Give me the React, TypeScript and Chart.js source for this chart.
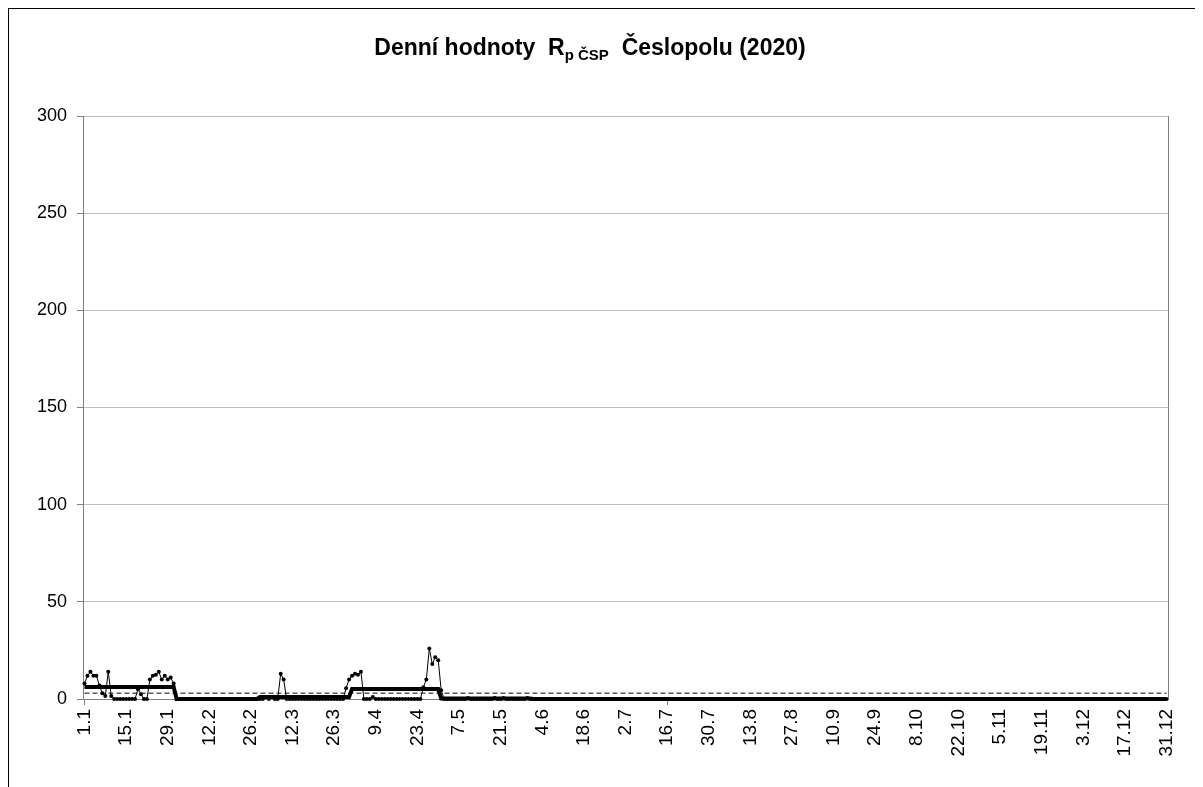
import React, { useEffect, useRef } from "react";
import { Chart, registerables } from "chart.js";

Chart.register(...registerables);

// Calendar (labels follow a 365-day calendar as in the reference)
const monthDays = [31, 28, 31, 30, 31, 30, 31, 31, 30, 31, 30, 31];
const dayLabels: string[] = [];
monthDays.forEach((n, m) => {
  for (let d = 1; d <= n; d++) dayLabels.push(`${d}.${m + 1}`);
});

// Daily values R_p ČSP
const jan = [8, 12, 14, 12, 12, 7, 3, 1.5, 14, 1.5, 0, 0, 0, 0, 0, 0, 0, 0, 5, 2.5, 0, 0, 10, 12, 12.5, 14, 10, 12, 10, 11, 8];
const feb = [0, 0, 0, 0, 0, 0, 0, 0, 0, 0, 0, 0, 0, 0, 0, 0, 0, 0, 0, 0, 0, 0, 0, 0, 0, 0, 0, 0];
const mar = [0, 0, 1, 0, 1, 0, 0, 13, 10, 0, 0, 0, 0, 0, 0, 0, 0, 0, 0, 0, 0, 0, 0, 0, 0, 0, 0, 0, 0, 5.5, 10];
const apr = [12, 13, 12.5, 14, 0, 0, 0, 1, 0, 0, 0, 0, 0, 0, 0, 0, 0, 0, 0, 0, 0, 0, 0, 0, 6, 10, 26, 18, 21.5, 20];
const may = [4.5, 0, 0, 0, 0, 0, 0, 0, 0, 0.5, 0, 0, 0, 0, 0, 0, 0, 0, 0.5, 0, 0, 0.5, 0, 0, 0, 0, 0, 0, 0, 0.5, 0];
const jun = [0, 0, 0, 0, 0, 0, 0, 0, 0, 0, 0, 0, 0, 0, 0, 0, 0, 0, 0, 0, 0, 0, 0, 0, 0, 0, 0, 0, 0, 0];
const jul = [0, 0, 0, 0, 0, 0, 0, 0, 0, 0, 0, 0, 0, 0, 0, 0, 0, 0, 0, 0, 0, 0, 0, 0, 0, 0, 0, 0, 0, 0, 0];
const aug = [0, 0, 0, 0, 0, 0, 0, 0, 0, 0, 0, 0, 0, 0, 0, 0, 0, 0, 0, 0, 0, 0, 0, 0, 0, 0, 0, 0, 0, 0, 0];
const sep = [0, 0, 0, 0, 0, 0, 0, 0, 0, 0, 0, 0, 0, 0, 0, 0, 0, 0, 0, 0, 0, 0, 0, 0, 0, 0, 0, 0, 0, 0];
const oct = [0, 0, 0, 0, 0, 0, 0, 0, 0, 0, 0, 0, 0, 0, 0, 0, 0, 0, 0, 0, 0, 0, 0, 0, 0, 0, 0, 0, 0, 0, 0];
const nov = [0, 0, 0, 0, 0, 0, 0, 0, 0, 0, 0, 0, 0, 0, 0, 0, 0, 0, 0, 0, 0, 0, 0, 0, 0, 0, 0, 0, 0, 0];
const dec = [0, 0, 0, 0, 0, 0, 0, 0, 0, 0, 0, 0, 0, 0, 0, 0, 0, 0, 0, 0, 0, 0, 0, 0, 0, 0, 0, 0, 0, 0, 0];
const dailyValues = [...jan, ...feb, ...mar, ...apr, ...may, ...jun, ...jul, ...aug, ...sep, ...oct, ...nov, ...dec];

// Monthly mean values (thick line)
const monthlyMeans = [6.2, 0, 1.0, 5.1, 0.2, 0, 0, 0, 0, 0, 0, 0];
const monthlyLine: number[] = [];
monthDays.forEach((n, m) => {
  for (let d = 0; d < n; d++) monthlyLine.push(monthlyMeans[m]);
});

// Reference level (dashed line)
const referenceLevel = 3;
const referenceLine = dailyValues.map(() => referenceLevel);

const yTicks = [0, 50, 100, 150, 200, 250, 300];
const labelStep = 14;

const FONT = "'Liberation Sans', Arial, sans-serif";

const titlePlugin = {
  id: "customTitle",
  afterDraw(chart: any) {
    const ctx = chart.ctx;
    ctx.save();
    ctx.fillStyle = "#000";
    ctx.textBaseline = "alphabetic";
    const big = `bold 23px ${FONT}`;
    const small = `bold 15px ${FONT}`;
    const parts = [
      { t: "Denní hodnoty  R", f: big, dy: 0 },
      { t: "p ČSP", f: small, dy: 5 },
      { t: "  Česlopolu (2020)", f: big, dy: 0 },
    ];
    let total = 0;
    parts.forEach((p) => {
      ctx.font = p.f;
      total += ctx.measureText(p.t).width;
    });
    let x = 581 - total / 2;
    const baseY = 46;
    parts.forEach((p) => {
      ctx.font = p.f;
      ctx.fillText(p.t, x, baseY + p.dy);
      x += ctx.measureText(p.t).width;
    });
    // right frame of plot area
    const a = chart.chartArea;
    ctx.strokeStyle = "#808080";
    ctx.lineWidth = 1;
    ctx.beginPath();
    ctx.moveTo(Math.round(a.right) + 0.5, a.top);
    ctx.lineTo(Math.round(a.right) + 0.5, a.bottom);
    ctx.stroke();
    ctx.restore();
  },
};

export default function App() {
  const ref = useRef<HTMLCanvasElement>(null);
  useEffect(() => {
    if (!ref.current) return;
    const chart = new Chart(ref.current, {
      type: "line",
      data: {
        labels: dayLabels,
        datasets: [
          {
            label: "Měsíční průměr",
            data: monthlyLine,
            borderColor: "#000",
            borderWidth: 4,
            pointRadius: 0,
            tension: 0,
            clip: 6,
          },
          {
            label: "Denní hodnoty",
            data: dailyValues,
            borderColor: "#000",
            borderWidth: 1,
            pointRadius: 2,
            pointBackgroundColor: "#000",
            pointBorderWidth: 0,
            tension: 0,
            clip: 6,
          },
          {
            label: "Úroveň",
            data: referenceLine,
            borderColor: "#000",
            borderWidth: 1,
            borderDash: [5, 3],
            pointRadius: 0,
            tension: 0,
          },
        ],
      },
      options: {
        animation: false,
        responsive: false,
        maintainAspectRatio: false,
        layout: { padding: { top: 107, right: 34, left: 0, bottom: 0 } },
        plugins: {
          legend: { display: false },
          tooltip: { enabled: false },
          title: { display: false },
        },
        scales: {
          x: {
            type: "category",
            offset: true,
            afterFit(scale: any) {
              scale.height = 88;
            },
            grid: {
              display: true,
              drawOnChartArea: false,
              drawTicks: true,
              tickLength: 6,
              offset: false,
              color: "#808080",
              tickColor: (c: any) => (c.index % labelStep === 0 ? "#808080" : "rgba(0,0,0,0)"),
            },
            border: { color: "#808080", width: 1 },
            ticks: {
              autoSkip: false,
              minRotation: 90,
              maxRotation: 90,
              padding: 4,
              color: "#000",
              font: { family: FONT, size: 19 },
              callback: (_v: any, i: number) => (i % labelStep === 0 ? dayLabels[i] : null),
            },
          },
          y: {
            min: 0,
            max: 300,
            afterFit(scale: any) {
              scale.width = 74;
            },
            afterBuildTicks(scale: any) {
              scale.ticks = yTicks.map((v) => ({ value: v }));
            },
            grid: {
              color: "#c0c0c0",
              tickColor: "#808080",
              tickLength: 6,
              drawTicks: true,
            },
            border: { color: "#808080", width: 1 },
            ticks: {
              padding: 10,
              color: "#000",
              font: { family: FONT, size: 18 },
            },
          },
        },
      },
      plugins: [titlePlugin],
    });
    return () => chart.destroy();
  }, []);

  return (
    <div
      style={{
        position: "relative",
        width: 1195,
        height: 800,
        border: "1px solid #000",
        boxSizing: "border-box",
        background: "#fff",
      }}
    >
      <canvas ref={ref} width={1193} height={778} style={{ display: "block", width: 1193, height: 778 }} />
    </div>
  );
}
